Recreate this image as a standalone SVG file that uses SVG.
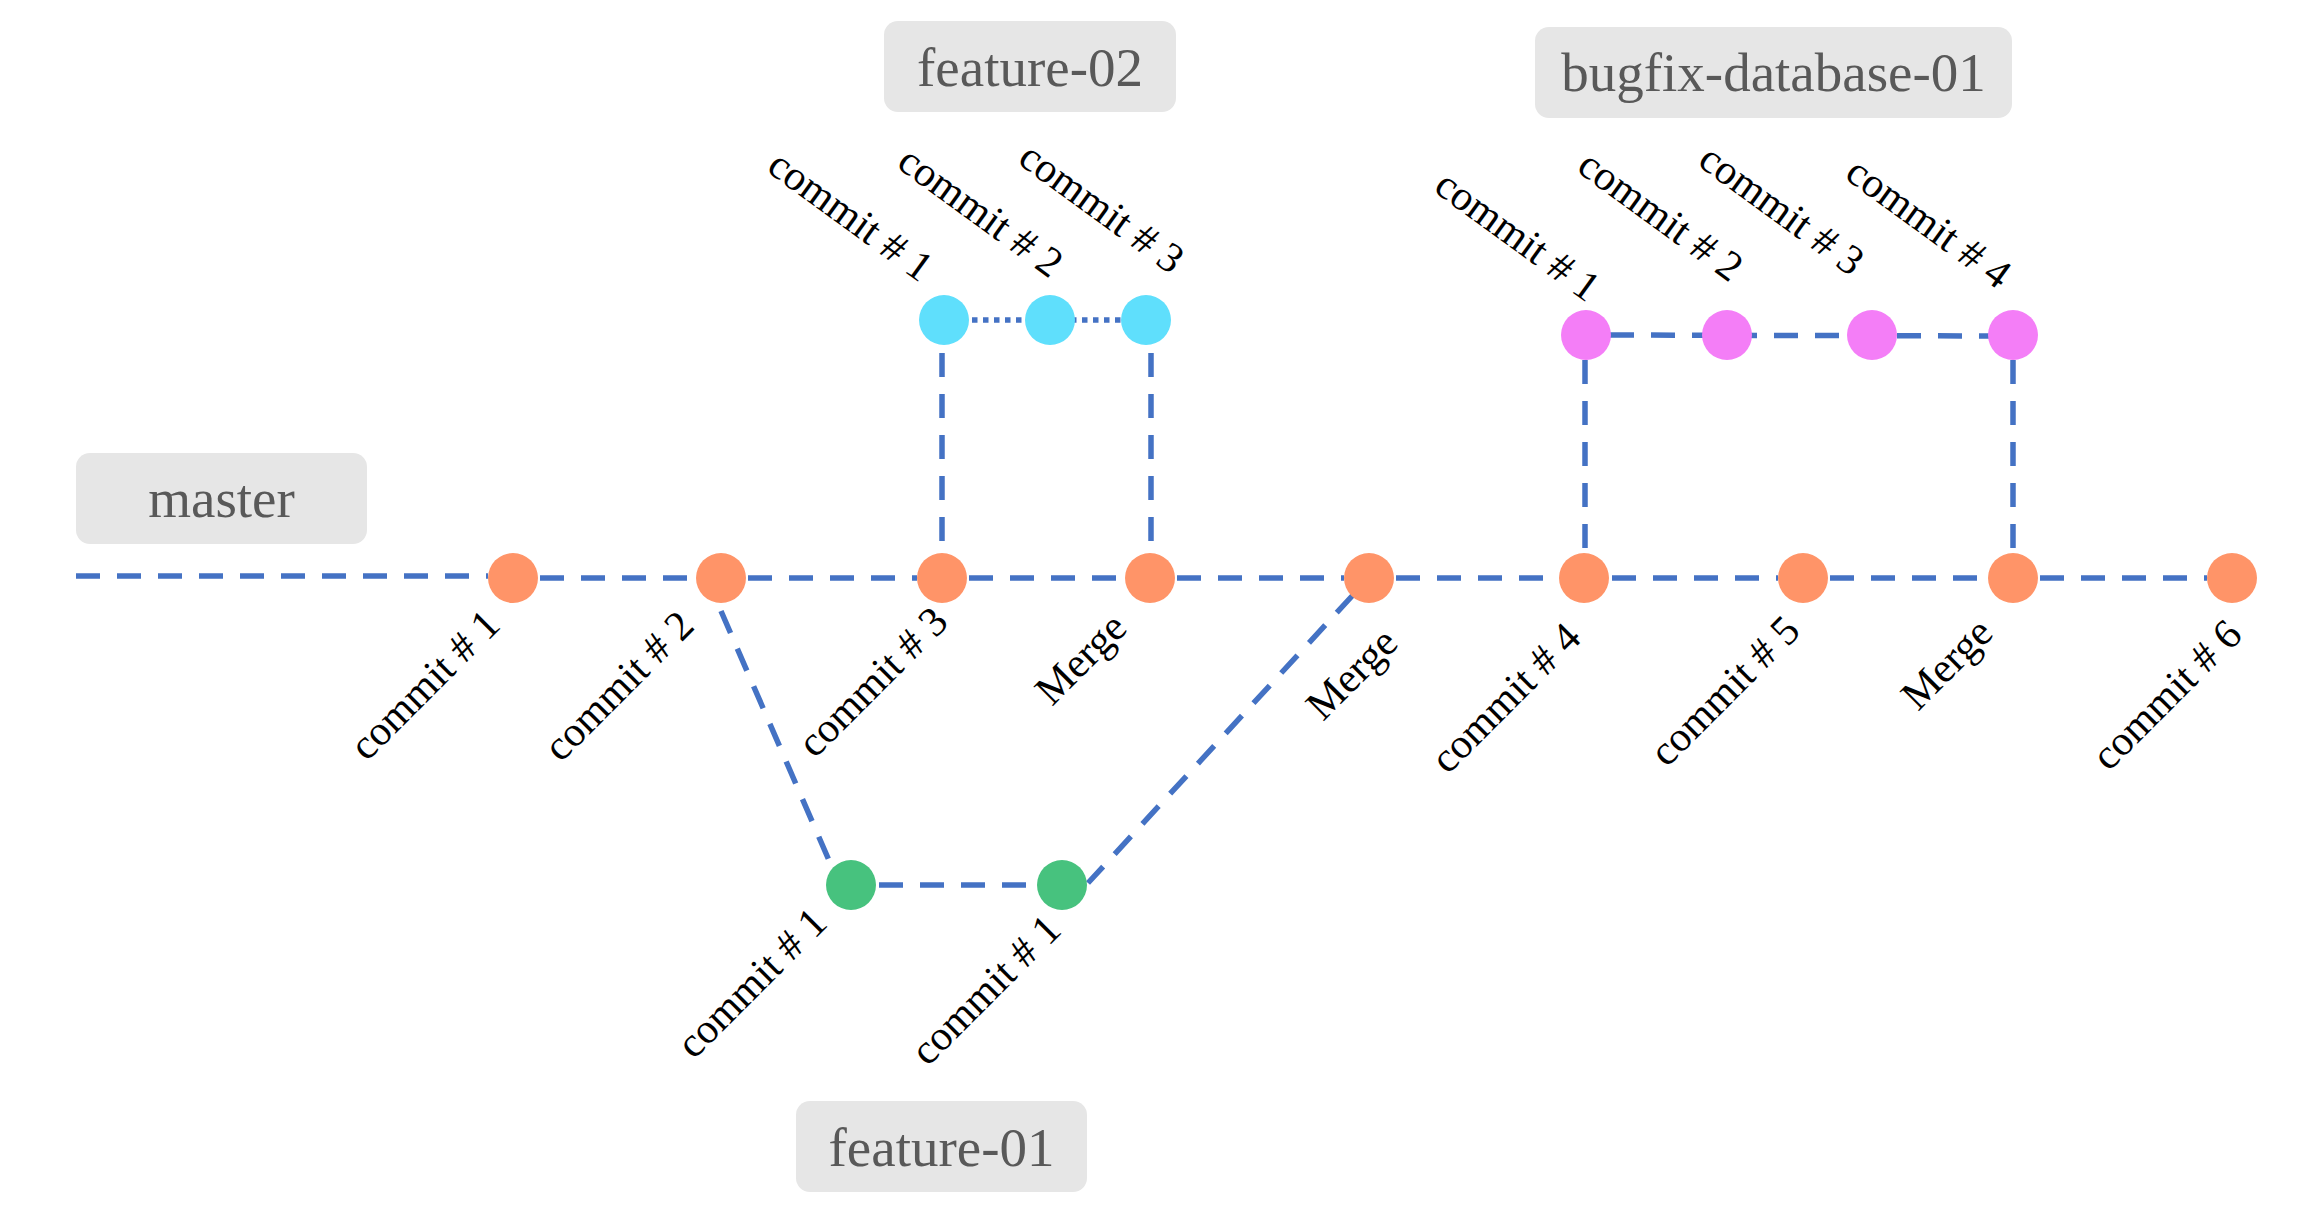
<svg xmlns="http://www.w3.org/2000/svg" width="2304" height="1224" viewBox="0 0 2304 1224">
<style>
.dash{fill:none;stroke:#4472c4;stroke-width:5.5;stroke-dasharray:24 17}
.dot{fill:none;stroke:#4472c4;stroke-width:5.5;stroke-dasharray:5.5 5.5}
.box{fill:#e6e6e6}
.btxt{font-family:"Liberation Serif",serif;font-size:55px;fill:#595959;text-anchor:middle}
.lbl{font-family:"Liberation Serif",serif;font-size:42px;fill:#000;text-anchor:end}
.m{fill:#ff9468}.c{fill:#5fdffc}.p{fill:#f47ef7}.g{fill:#47c27e}
</style>
<rect width="2304" height="1224" fill="#fff"/>
<g id="connectors">
<line class="dash" x1="76" y1="576" x2="488" y2="576"/>
<line class="dash" x1="540" y1="578" x2="696" y2="578"/>
<line class="dash" x1="748" y1="578" x2="917" y2="578"/>
<line class="dash" x1="969" y1="578" x2="1125" y2="578"/>
<line class="dash" x1="1177" y1="578" x2="1344" y2="578"/>
<line class="dash" x1="1396" y1="578" x2="1559" y2="578"/>
<line class="dash" x1="1612" y1="578" x2="1778" y2="578"/>
<line class="dash" x1="1830" y1="578" x2="1988" y2="578"/>
<line class="dash" x1="2040" y1="578" x2="2207" y2="578"/>
<line class="dot" x1="972" y1="320" x2="1140" y2="320"/>
<line class="dash" x1="942" y1="353" x2="942" y2="553"/>
<line class="dash" x1="1151" y1="353" x2="1151" y2="553"/>
<line class="dash" x1="1610" y1="335" x2="2000" y2="336"/>
<line class="dash" x1="1585" y1="360" x2="1585" y2="553"/>
<line class="dash" x1="2013" y1="360" x2="2013" y2="553"/>
<line class="dash" x1="721" y1="611" x2="831" y2="865"/>
<line class="dash" x1="879" y1="885" x2="1050" y2="885"/>
<line class="dash" x1="1353" y1="595" x2="1088" y2="883"/>
</g>
<g id="branch-master"><rect class="box" x="76" y="453" width="291" height="91" rx="14"/><text class="btxt" x="221.5" y="517">master</text></g>
<g id="branch-feature-02"><rect class="box" x="884" y="21" width="292" height="91" rx="14"/><text class="btxt" x="1030" y="86">feature-02</text></g>
<g id="branch-bugfix-database-01"><rect class="box" x="1535" y="27" width="477" height="91" rx="14"/><text class="btxt" x="1773.5" y="91">bugfix-database-01</text></g>
<g id="branch-feature-01"><rect class="box" x="796" y="1101" width="291" height="91" rx="14"/><text class="btxt" x="941.5" y="1166">feature-01</text></g>
<g id="master-c1"><circle class="m" cx="513" cy="578" r="25"/><text class="lbl" transform="translate(502,627) rotate(-45)">commit # 1</text></g>
<g id="master-c2"><circle class="m" cx="721" cy="578" r="25"/><text class="lbl" transform="translate(696,628) rotate(-45)">commit # 2</text></g>
<g id="master-c3"><circle class="m" cx="942" cy="578" r="25"/><text class="lbl" transform="translate(950,624) rotate(-45)">commit # 3</text></g>
<g id="master-merge1"><circle class="m" cx="1150" cy="578" r="25"/><text class="lbl" transform="translate(1129,630) rotate(-45)">Merge</text></g>
<g id="master-merge2"><circle class="m" cx="1369" cy="578" r="25"/><text class="lbl" transform="translate(1400,645) rotate(-45)">Merge</text></g>
<g id="master-c4"><circle class="m" cx="1584" cy="578" r="25"/><text class="lbl" transform="translate(1583,640) rotate(-45)">commit # 4</text></g>
<g id="master-c5"><circle class="m" cx="1803" cy="578" r="25"/><text class="lbl" transform="translate(1802,633) rotate(-45)">commit # 5</text></g>
<g id="master-merge3"><circle class="m" cx="2013" cy="578" r="25"/><text class="lbl" transform="translate(1995,635) rotate(-45)">Merge</text></g>
<g id="master-c6"><circle class="m" cx="2232" cy="578" r="25"/><text class="lbl" transform="translate(2244,637) rotate(-45)">commit # 6</text></g>
<g id="f2-c1"><circle class="c" cx="944" cy="320" r="25"/><text class="lbl" transform="translate(920,283) rotate(36)">commit # 1</text></g>
<g id="f2-c2"><circle class="c" cx="1050" cy="320" r="25"/><text class="lbl" transform="translate(1050,279) rotate(36)">commit # 2</text></g>
<g id="f2-c3"><circle class="c" cx="1146" cy="320" r="25"/><text class="lbl" transform="translate(1171,275) rotate(36)">commit # 3</text></g>
<g id="bf-c1"><circle class="p" cx="1586" cy="335" r="25"/><text class="lbl" transform="translate(1587,303) rotate(36)">commit # 1</text></g>
<g id="bf-c2"><circle class="p" cx="1727" cy="335" r="25"/><text class="lbl" transform="translate(1730,283) rotate(36)">commit # 2</text></g>
<g id="bf-c3"><circle class="p" cx="1872" cy="335" r="25"/><text class="lbl" transform="translate(1851,277) rotate(36)">commit # 3</text></g>
<g id="bf-c4"><circle class="p" cx="2013" cy="335" r="25"/><text class="lbl" transform="translate(1998,290) rotate(36)">commit # 4</text></g>
<g id="f1-c1"><circle class="g" cx="851" cy="885" r="25"/><text class="lbl" transform="translate(829,925) rotate(-45)">commit # 1</text></g>
<g id="f1-c2"><circle class="g" cx="1062" cy="885" r="25"/><text class="lbl" transform="translate(1063,932) rotate(-45)">commit # 1</text></g>
</svg>
